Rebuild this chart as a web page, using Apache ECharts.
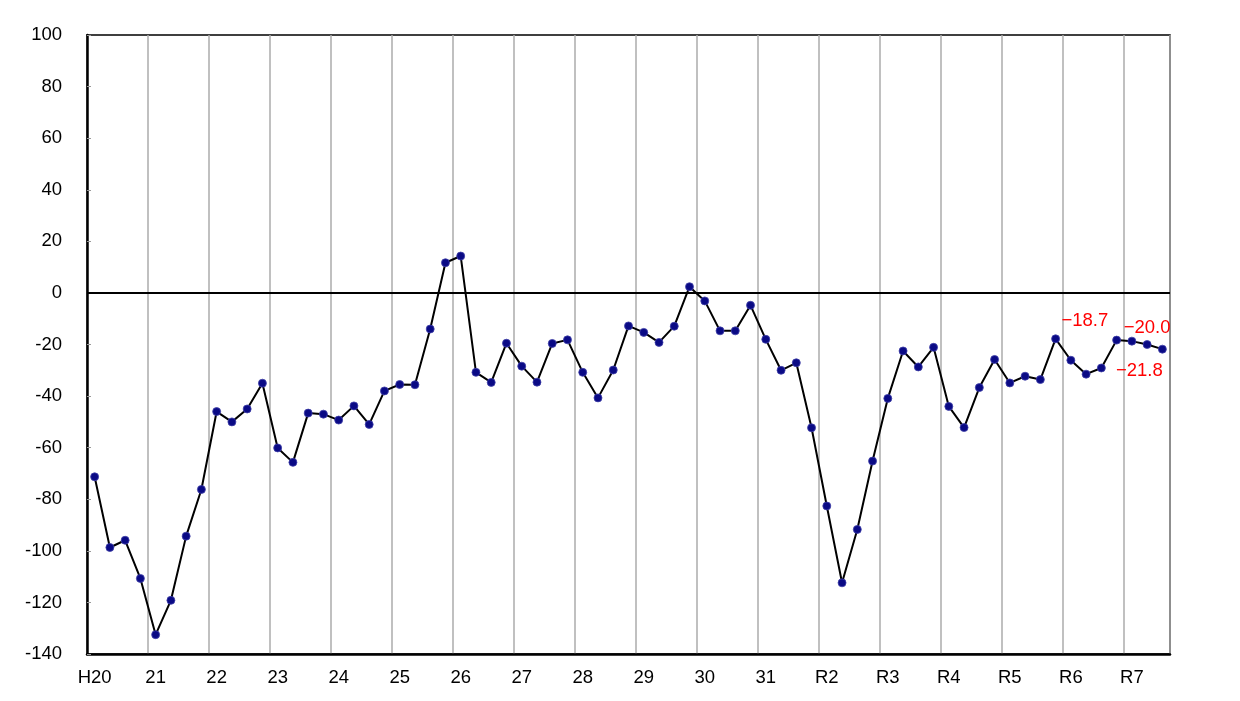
<!DOCTYPE html>
<html>
<head>
<meta charset="utf-8">
<script src="https://cdn.jsdelivr.net/npm/echarts@6/dist/echarts.min.js"></script>
<style>
html,body{margin:0;padding:0;background:#fff;}
#chart{width:1240px;height:701px;}
</style>
</head>
<body>
<div id="chart"></div>
<script>
// Fiscal-year tick labels (4 quarters each, last year has 3)
var years = ['H20','21','22','23','24','25','26','27','28','29','30','31','R2','R3','R4','R5','R6','R7'];
// Quarterly values
var values = [
  -71.3, -98.7, -95.9, -110.7,
  -132.5, -119.2, -94.3, -76.2,
  -46.0, -50.0, -45.0, -35.0,
  -60.1, -65.7, -46.6, -47.0,
  -49.3, -43.8, -51.0, -38.0,
  -35.5, -35.6, -14.0, 11.7,
  14.3, -30.8, -34.7, -19.5,
  -28.4, -34.6, -19.6, -18.2,
  -30.8, -40.7, -29.9, -12.8,
  -15.3, -19.2, -12.9, 2.4,
  -3.1, -14.7, -14.7, -4.8,
  -18.0, -30.0, -27.1, -52.3,
  -82.6, -112.4, -91.7, -65.2,
  -40.9, -22.5, -28.7, -21.1,
  -44.0, -52.2, -36.7, -25.8,
  -34.9, -32.3, -33.6, -17.8,
  -26.1, -31.5, -29.1, -18.3,
  -18.7, -20.0, -21.8
];
// Indices of the values that carry a red value label
var labelledIdx = [68, 69, 70];
var yTicks = {min: -140, max: 100, interval: 20};

var categories = values.map(function (v, i) {
  return years[Math.floor(i / 4)] + '-' + (i % 4 + 1);
});
var labelOffsets = {68: [-47, -20], 69: [0, -17], 70: [-23, 22]};

var seriesData = values.map(function (v, i) {
  if (labelledIdx.indexOf(i) >= 0) {
    return {
      value: v,
      label: {
        show: true,
        position: 'inside',
        offset: labelOffsets[i],
        color: '#ff0000',
        fontSize: 18.5,
        fontFamily: 'Liberation Sans, Arial, sans-serif',
        formatter: function (p) {
          return (p.value < 0 ? '\u2212' : '') + Math.abs(p.value).toFixed(1);
        }
      }
    };
  }
  return v;
});

var chart = echarts.init(document.getElementById('chart'), null, {renderer: 'canvas'});
chart.setOption({
  animation: false,
  backgroundColor: '#ffffff',
  grid: {
    left: 87, right: 70, top: 35, bottom: 47,
    show: true, borderColor: '#000', borderWidth: 1.5, backgroundColor: 'transparent'
  },
  xAxis: {
    type: 'category',
    data: categories,
    boundaryGap: true,
    axisLine: {show: true, onZero: false, lineStyle: {color: '#000', width: 2.5}},
    axisTick: {show: false, interval: 3},
    axisLabel: {
      interval: 3,
      margin: 14,
      color: '#000',
      fontSize: 18.5,
      fontFamily: 'Liberation Sans, Arial, sans-serif',
      formatter: function (val) { return val.split('-')[0]; }
    },
    splitLine: {show: true, interval: 3, lineStyle: {color: '#ababab', width: 1.5}}
  },
  yAxis: {
    type: 'value',
    min: yTicks.min, max: yTicks.max, interval: yTicks.interval,
    axisLine: {show: true, lineStyle: {color: '#000', width: 2.5}},
    axisTick: {show: true, inside: true, length: 4, lineStyle: {color: '#999', width: 1}},
    axisLabel: {
      margin: 25,
      color: '#000',
      fontSize: 18.5,
      fontFamily: 'Liberation Sans, Arial, sans-serif'
    },
    splitLine: {show: false}
  },
  series: [{
    type: 'line',
    data: seriesData,
    symbol: 'circle',
    symbolSize: 8,
    lineStyle: {color: '#000', width: 2},
    itemStyle: {color: '#0a0a85', borderColor: '#4040a8', borderWidth: 0.8},
    label: {show: false},
    z: 5,
    markLine: {
      silent: true,
      symbol: ['none', 'none'],
      label: {show: false},
      lineStyle: {color: '#000', width: 2, type: 'solid'},
      data: [{yAxis: 0}],
      z: 3
    }
  }]
});
</script>
</body>
</html>
